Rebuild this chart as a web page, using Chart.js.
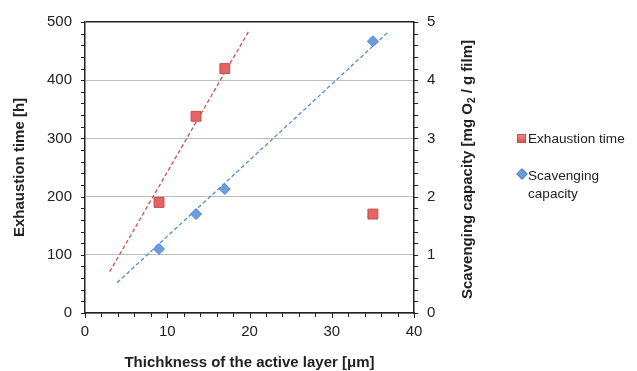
<!DOCTYPE html>
<html>
<head>
<meta charset="utf-8">
<script src="https://cdn.jsdelivr.net/npm/chart.js@4.4.1/dist/chart.umd.min.js"></script>
<style>
  html, body { margin: 0; padding: 0; background: #fff; }
  #wrap { position: relative; width: 637px; height: 371px; font-family: "Liberation Sans", Arial, sans-serif; color: #222; }
  #chart { position: absolute; left: 0; top: 0; }
  .leg-text { position: absolute; left: 528px; font-size: 13.6px; line-height: 18px; white-space: nowrap; }
  .sw-red { position: absolute; left: 517px; top: 134px; width: 7px; height: 7px;
            background: linear-gradient(#f08a8a, #d85454); border: 1px solid #c0504d; }
  .sw-blue { position: absolute; left: 518px; top: 170px; width: 6px; height: 6px;
             background: #6a9ee0; border: 1px solid #4f81bd; transform: rotate(45deg); }
</style>
</head>
<body>
<div id="wrap">
  <canvas id="chart" width="637" height="371"></canvas>
  <div class="sw-red"></div>
  <div class="leg-text" style="top:130px">Exhaustion time</div>
  <div class="sw-blue"></div>
  <div class="leg-text" style="top:167px">Scavenging<br>capacity</div>
</div>
<script>
// values
const thickness = [9, 13.5, 17, 35];
const exhaustionTime = [190, 338, 420, 170];
const scavengingCapacity = [1.1, 1.7, 2.13, 4.67];

// dashed trend lines (end points as drawn)
const exhaustionTrendX = [3, 19.9];
const exhaustionTrendY = [71, 484];
const scavengingTrendX = [3.9, 36.8];
const scavengingTrendY = [0.52, 4.82];

const xTicks = [0, 10, 20, 30, 40];
const leftTicks = [0, 100, 200, 300, 400, 500];
const rightTicks = [0, 1, 2, 3, 4, 5];
const xMinorStep = 2;
const leftMinorStep = 20;
const rightMinorStep = 0.2;

const xTitle = 'Thichkness of the active layer [\u03bcm]';
const leftTitle = 'Exhaustion time [h]';
const rightTitleParts = ['Scavenging capacity [mg O', '2', ' / g film]'];

const toPoints = (xs, ys) => xs.map((v, i) => ({ x: v, y: ys[i] }));

const tickFont = { family: '"Liberation Sans", Arial, sans-serif', size: 15 };
const titleFont = { family: '"Liberation Sans", Arial, sans-serif', size: 15, weight: 'bold' };
const axisColor = '#222';

// minor ticks and the right-hand title (reads bottom to top)
const axisDecor = {
    id: 'axisDecor',
    afterDraw(chart){
        const ctx = chart.ctx;
        const area = chart.chartArea;
        const sx = chart.scales.x, sy = chart.scales.y, sy2 = chart.scales.y2;
        ctx.save();
        ctx.strokeStyle = axisColor;
        ctx.lineWidth = 1;
        ctx.beginPath();
        for (let v = sx.min; v <= sx.max + 1e-9; v += xMinorStep) {
            const px = Math.round(sx.getPixelForValue(v)) + 0.5;
            ctx.moveTo(px, area.bottom);
            ctx.lineTo(px, area.bottom + (xTicks.includes(Math.round(v)) ? 5 : 4));
        }
        for (let v = sy.min; v <= sy.max + 1e-9; v += leftMinorStep) {
            const py = Math.round(sy.getPixelForValue(v)) + 0.5;
            ctx.moveTo(area.left, py);
            ctx.lineTo(area.left - 4, py);
        }
        for (let v = sy2.min; v <= sy2.max + 1e-9; v += rightMinorStep) {
            const py = Math.round(sy2.getPixelForValue(v)) + 0.5;
            ctx.moveTo(area.right, py);
            ctx.lineTo(area.right + 4, py);
        }
        ctx.stroke();

        // right title
        const big = 'bold 15px "Liberation Sans", Arial, sans-serif';
        const small = 'bold 10px "Liberation Sans", Arial, sans-serif';
        ctx.font = big;
        const w0 = ctx.measureText(rightTitleParts[0]).width;
        const w2 = ctx.measureText(rightTitleParts[2]).width;
        ctx.font = small;
        const w1 = ctx.measureText(rightTitleParts[1]).width;
        const total = w0 + w1 + w2;
        ctx.translate(468, (area.top + area.bottom) / 2 + 2);
        ctx.rotate(-Math.PI / 2);
        ctx.fillStyle = axisColor;
        ctx.textBaseline = 'middle';
        ctx.textAlign = 'left';
        let cx = -total / 2;
        ctx.font = big;
        ctx.fillText(rightTitleParts[0], cx, 0);
        cx += w0;
        ctx.font = small;
        ctx.fillText(rightTitleParts[1], cx, 4);
        cx += w1;
        ctx.font = big;
        ctx.fillText(rightTitleParts[2], cx, 0);
        ctx.restore();
    }
};

new Chart(document.getElementById('chart'), {
    type: 'scatter',
    data: {
        datasets: [
            {
                label: 'Exhaustion time',
                data: toPoints(thickness, exhaustionTime),
                yAxisID: 'y',
                pointStyle: 'rect',
                pointRadius: 7,
                backgroundColor: '#e26464',
                borderColor: '#c0504d',
                borderWidth: 1
            },
            {
                label: 'Scavenging capacity',
                data: toPoints(thickness, scavengingCapacity),
                yAxisID: 'y2',
                pointStyle: 'rectRot',
                pointRadius: 5.5,
                backgroundColor: '#6a9ee0',
                borderColor: '#5586c8',
                borderWidth: 1
            },
            {
                label: 'Exhaustion trend',
                data: toPoints(exhaustionTrendX, exhaustionTrendY),
                yAxisID: 'y',
                showLine: true,
                pointRadius: 0,
                borderColor: '#d24f4f',
                borderWidth: 1.3,
                borderDash: [4, 2.5]
            },
            {
                label: 'Scavenging trend',
                data: toPoints(scavengingTrendX, scavengingTrendY),
                yAxisID: 'y2',
                showLine: true,
                pointRadius: 0,
                borderColor: '#4f8fd6',
                borderWidth: 1.3,
                borderDash: [4, 2.5]
            }
        ]
    },
    options: {
        responsive: false,
        animation: false,
        layout: { padding: { left: 0, right: 0, top: 19, bottom: 0 } },
        plugins: { legend: { display: false }, tooltip: { enabled: false } },
        scales: {
            x: {
                type: 'linear',
                min: 0, max: 40,
                afterBuildTicks: (s) => { s.ticks = xTicks.map(v => ({ value: v })); },
                afterFit: (s) => { s.height = 58; },
                grid: { display: false, drawTicks: false },
                border: { display: true, color: axisColor, width: 1.5 },
                ticks: { font: tickFont, color: axisColor, padding: 10, maxRotation: 0 },
                title: { display: true, text: xTitle, font: { ...titleFont, lineHeight: 1.1 }, color: axisColor, padding: { top: 4, bottom: 0 } }
            },
            y: {
                type: 'linear',
                position: 'left',
                min: 0, max: 500,
                afterBuildTicks: (s) => { s.ticks = leftTicks.map(v => ({ value: v })); },
                afterFit: (s) => { s.width = 85; },
                grid: {
                    drawTicks: false,
                    color: (c) => c.tick && c.tick.value === 500 ? axisColor : '#bdbdbd',
                    lineWidth: (c) => c.tick && c.tick.value === 500 ? 1.5 : 1
                },
                border: { display: true, color: axisColor, width: 1.5 },
                ticks: { font: tickFont, color: axisColor, padding: 13 },
                title: { display: true, text: leftTitle, font: titleFont, color: axisColor, padding: { top: 11, bottom: 4 } }
            },
            y2: {
                type: 'linear',
                position: 'right',
                min: 0, max: 5,
                afterBuildTicks: (s) => { s.ticks = rightTicks.map(v => ({ value: v })); },
                afterFit: (s) => { s.width = 223; },
                grid: { drawOnChartArea: false, drawTicks: false },
                border: { display: true, color: axisColor, width: 1.5 },
                ticks: { font: tickFont, color: axisColor, padding: 13 },
                title: { display: false }
            }
        }
    },
    plugins: [axisDecor]
});
</script>
</body>
</html>
